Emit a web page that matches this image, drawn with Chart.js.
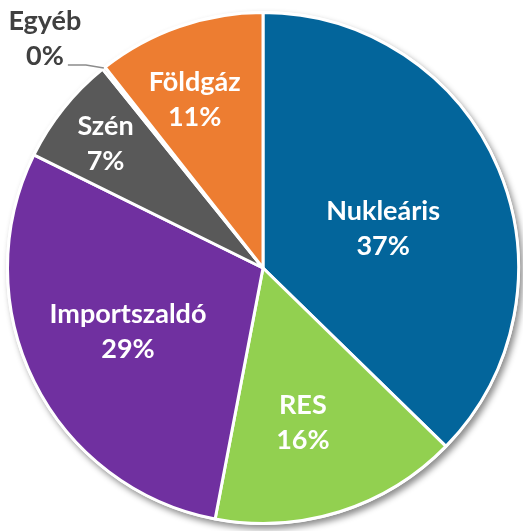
<!DOCTYPE html>
<html><head><meta charset="utf-8">
<script src="https://cdn.jsdelivr.net/npm/chart.js@4/dist/chart.umd.min.js"></script>
<style>html,body{margin:0;padding:0;background:#fff;overflow:hidden;}</style>
</head><body>
<canvas id="c" width="523" height="531"></canvas>
<script>
const categories = ['Nukleáris', 'RES', 'Importszaldó', 'Szén', 'Egyéb', 'Földgáz'];
const shares = [37.3, 15.7, 29.3, 6.9, 0.2, 10.6];
const percentLabels = ['37%', '16%', '29%', '7%', '0%', '11%'];

const sliceColors = ['#03659B', '#92D050', '#7030A0', '#595959', '#BFBFBF', '#ED7D31'];
// label placement: fraction of radius, fraction of slice angle (null = outside label)
const labelRadius = [0.494, 0.627, 0.585, 0.784, null, 0.71];
const labelAngleFrac = [0.537, 0.554, 0.51, 0.48, null, 0.42];
const FONT = 'bold 27px Lato, "Open Sans", sans-serif';
const LINE_GAP = 35;

const shadowPlugin = {
  id: 'pieShadow',
  beforeDatasetsDraw(chart) {
    const arc = chart.getDatasetMeta(0).data[0];
    const {x, y, outerRadius} = arc.getProps(['x', 'y', 'outerRadius'], true);
    const ctx = chart.ctx;
    ctx.save();
    ctx.shadowColor = 'rgba(0,0,0,0.45)';
    ctx.shadowBlur = 6;
    ctx.shadowOffsetX = 3;
    ctx.shadowOffsetY = 4;
    ctx.beginPath();
    ctx.arc(x, y, outerRadius + 1.5, 0, Math.PI * 2);
    ctx.fillStyle = '#ffffff';
    ctx.fill();
    ctx.restore();
  }
};

const labelPlugin = {
  id: 'sliceLabels',
  afterDatasetsDraw(chart) {
    const ctx = chart.ctx;
    const arcs = chart.getDatasetMeta(0).data;
    ctx.save();
    ctx.font = FONT;
    ctx.textAlign = 'center';
    ctx.textBaseline = 'middle';
    arcs.forEach((arc, i) => {
      const p = arc.getProps(['x', 'y', 'startAngle', 'endAngle', 'outerRadius'], true);
      if (labelRadius[i] !== null) {
        const a = p.startAngle + (p.endAngle - p.startAngle) * labelAngleFrac[i];
        const r = p.outerRadius * labelRadius[i];
        const cx = p.x + Math.cos(a) * r;
        const cy = p.y + Math.sin(a) * r;
        ctx.fillStyle = '#ffffff';
        ctx.fillText(categories[i], cx, cy - LINE_GAP / 2);
        ctx.fillText(percentLabels[i], cx, cy + LINE_GAP / 2);
      } else {
        const a = (p.startAngle + p.endAngle) / 2;
        const ax = p.x + Math.cos(a) * p.outerRadius;
        const ay = p.y + Math.sin(a) * p.outerRadius;
        ctx.strokeStyle = '#8C8C8C';
        ctx.lineWidth = 1.5;
        ctx.beginPath();
        ctx.moveTo(ax, ay);
        ctx.lineTo(ax - 18, ay - 3);
        ctx.lineTo(ax - 36, ay - 3);
        ctx.stroke();
        ctx.fillStyle = '#404040';
        const tx = ax - 59, ty = ay - 29;
        ctx.fillText(categories[i], tx, ty - LINE_GAP / 2);
        ctx.fillText(percentLabels[i], tx, ty + LINE_GAP / 2);
      }
    });
    ctx.restore();
  }
};

new Chart(document.getElementById('c'), {
  type: 'pie',
  data: {
    labels: categories,
    datasets: [{
      data: shares,
      backgroundColor: sliceColors,
      borderColor: '#ffffff',
      borderWidth: 3
    }]
  },
  options: {
    responsive: false,
    animation: false,
    layout: {padding: {top: 11, bottom: 6, left: 6, right: 3}},
    plugins: {legend: {display: false}, tooltip: {enabled: false}}
  },
  plugins: [shadowPlugin, labelPlugin]
});
</script>
</body></html>
